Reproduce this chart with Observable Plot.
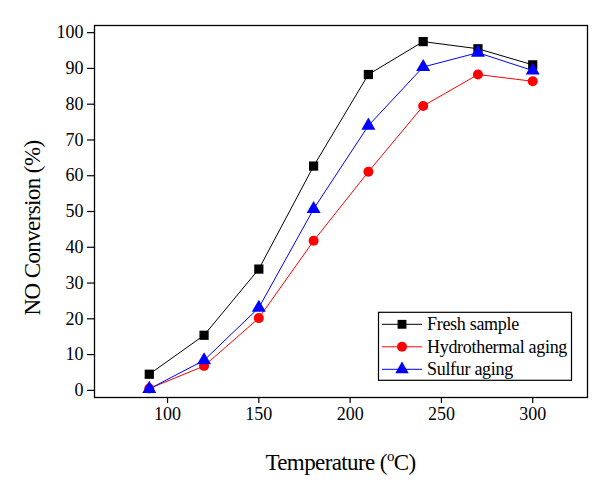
<!DOCTYPE html>
<html>
<head>
<meta charset="utf-8">
<script src="https://cdn.jsdelivr.net/npm/d3@7"></script>
<script src="https://cdn.jsdelivr.net/npm/@observablehq/plot@0.6"></script>
<style>
  html, body { margin: 0; padding: 0; background: #fff; }
  #chart svg { display: block; }
  #chart svg, #chart svg text, #chart svg tspan, #chart svg g {
    font-family: "Liberation Serif", "Times New Roman", Times, "DejaVu Serif", serif !important;
  }
</style>
</head>
<body>
<div id="chart"></div>
<script>
const temperatures = [90, 120, 150, 180, 210, 240, 270, 300];
const freshSample = [4.5, 15.4, 33.9, 62.7, 88.3, 97.5, 95.5, 91.0];
const hydrothermalAging = [0.5, 6.8, 20.2, 41.8, 61.1, 79.5, 88.3, 86.4];
const sulfurAging = [0.4, 8.4, 23.1, 50.7, 74.0, 90.4, 94.4, 89.4];
const seriesNames = ["Fresh sample", "Hydrothermal aging", "Sulfur aging"];
const seriesColors = ["#000000", "#ff0000", "#0000ff"];
const seriesSymbols = ["square", "circle", "triangle"];
const xTicks = [100, 150, 200, 250, 300];
const yTicks = [0, 10, 20, 30, 40, 50, 60, 70, 80, 90, 100];
const xTitle = "Temperature (";
const yTitle = "NO Conversion (%)";

const seriesValues = [freshSample, hydrothermalAging, sulfurAging];
const data = seriesNames.flatMap((name, i) =>
  temperatures.map((t, j) => ({ series: name, temperature: t, value: seriesValues[i][j] }))
);

const font = "Liberation Serif, Times New Roman, DejaVu Serif, serif";

const plot = Plot.plot({
  width: 609,
  height: 482,
  marginLeft: 94,
  marginRight: 22,
  marginTop: 25,
  marginBottom: 85,
  style: { fontFamily: font, fontSize: "18px", background: "#fff", color: "#000" },
  x: { domain: [60, 330] },
  y: { domain: [-2, 102] },
  color: { domain: seriesNames, range: seriesColors },
  symbol: { domain: seriesNames, range: seriesSymbols },
  marks: [
    Plot.axisX({ ticks: xTicks, tickSize: 6, tickPadding: 4, label: null, fontSize: 18, strokeWidth: 1.2 }),
    Plot.axisY({ ticks: yTicks, tickSize: 7, tickPadding: 4, label: null, fontSize: 18, strokeWidth: 1.2 }),
    Plot.line(data, { x: "temperature", y: "value", z: "series", stroke: "series", strokeWidth: 1 }),
    Plot.dot(data.filter(d => d.series === "Fresh sample"), { x: "temperature", y: "value", symbol: "series", fill: "series", r: 5.2 }),
    Plot.dot(data.filter(d => d.series === "Hydrothermal aging"), { x: "temperature", y: "value", symbol: "series", fill: "series", r: 5 }),
    Plot.dot(data.filter(d => d.series === "Sulfur aging"), { x: "temperature", y: "value", symbol: "series", fill: "series", r: 5.2 }),
    Plot.frame({ stroke: "#000", strokeWidth: 1.3 })
  ]
});

document.getElementById("chart").appendChild(plot);

const svg = d3.select(plot);
const xs = plot.scale("x"), ys = plot.scale("y");
const [x0, x1] = xs.range;
const [y0, y1] = ys.range; // y0 bottom, y1 top

// X axis title with superscript degree "o"
const xt = svg.append("text")
  .attr("x", (x0 + x1) / 2)
  .attr("y", y0 + 73)
  .attr("text-anchor", "middle")
  .attr("font-size", 23)
  .attr("letter-spacing", "-0.6")
  .attr("fill", "#000");
xt.append("tspan").text(xTitle);
xt.append("tspan").attr("dy", -9).attr("font-size", 15).text("o");
xt.append("tspan").attr("dy", 9).text("C)");

// Y axis title
svg.append("text")
  .attr("transform", `translate(${40},${(y0 + y1) / 2 + 17}) rotate(-90)`)
  .attr("text-anchor", "middle")
  .attr("font-size", 23)
  .attr("letter-spacing", "-0.6")
  .attr("fill", "#000")
  .text(yTitle);

// Legend
const legW = 193, legH = 68;
const legX = x1 - 15.5 - legW;
const legY = y0 - 16.7 - legH;
const lg = svg.append("g").attr("transform", `translate(${legX},${legY})`);
lg.append("rect").attr("width", legW).attr("height", legH)
  .attr("fill", "#fff").attr("stroke", "#000").attr("stroke-width", 1.2);
const sym = { square: d3.symbolSquare, circle: d3.symbolCircle, triangle: d3.symbolTriangle };
seriesNames.forEach((name, i) => {
  const cy = 12 + i * 22.5;
  lg.append("line").attr("x1", 3.5).attr("x2", 43.5).attr("y1", cy).attr("y2", cy)
    .attr("stroke", seriesColors[i]).attr("stroke-width", 1);
  lg.append("path").attr("transform", `translate(23.5,${cy})`)
    .attr("d", d3.symbol(sym[seriesSymbols[i]], Math.PI * 5 * 5)())
    .attr("fill", seriesColors[i]);
  lg.append("text").attr("x", 48.5).attr("y", cy + 6)
    .attr("text-anchor", "start")
    .attr("font-size", 18).attr("letter-spacing", "-0.3")
    .attr("fill", "#000").text(name);
});
</script>
</body>
</html>
